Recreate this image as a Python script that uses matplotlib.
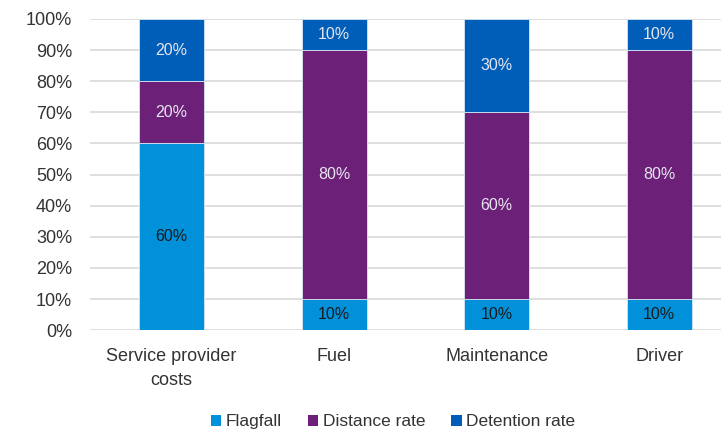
import numpy as np
import matplotlib.pyplot as plt
from matplotlib.ticker import PercentFormatter
from matplotlib.patches import Patch

plt.rcParams['font.family'] = ['Liberation Sans', 'DejaVu Sans']

categories = ["Service provider\ncosts", "Fuel", "Maintenance", "Driver"]
flagfall = [60, 10, 10, 10]
distance_rate = [20, 80, 60, 80]
detention_rate = [20, 10, 30, 10]

series = [
    ("Flagfall", flagfall, "#0091DA", "#1a1a1a"),
    ("Distance rate", distance_rate, "#6D2077", "#e6e6f0"),
    ("Detention rate", detention_rate, "#005EB8", "#e6e6f0"),
]

fig = plt.figure(figsize=(7.21, 4.30), dpi=100)
ax = fig.add_axes([0.125, 0.232, 0.875, 0.724])

x = np.arange(len(categories))
bottom = np.zeros(len(categories))
for name, vals, color, txt in series:
    bars = ax.bar(x, vals, 0.4, bottom=bottom, color=color, edgecolor="#d8e6f5",
                  linewidth=0.6, zorder=3, label=name)
    for b, v, b0 in zip(bars, vals, bottom):
        ax.text(b.get_x() + b.get_width() / 2, b0 + v / 2, f"{v}%", ha="center",
                va="center", fontsize=11.5, color=txt, zorder=4)
    bottom += vals

ax.set_ylim(0, 100)
ax.set_xlim(-0.5, 3.38)
ax.set_yticks(np.arange(0, 101, 10))
ax.yaxis.set_major_formatter(PercentFormatter(decimals=0))
ax.set_xticks(x)
ax.set_xticklabels(categories, linespacing=1.5)
ax.tick_params(axis="both", length=0, labelsize=13, colors="#333333")
ax.tick_params(axis="y", pad=13)
ax.tick_params(axis="x", pad=13)
ax.grid(axis="y", color="#d9d9d9", linewidth=1.2, zorder=0)
for s in ax.spines.values():
    s.set_visible(False)

handles = [Patch(facecolor=c, label=n) for n, _, c, _ in series]
fig.legend(handles=handles, loc="lower center", bbox_to_anchor=(0.545, -0.035), ncol=3,
           frameon=False, fontsize=12.5, handlelength=0.6, handleheight=0.6,
           handletextpad=0.25, columnspacing=1.5, labelcolor="#333333")

fig.savefig("out.png", dpi=100)
